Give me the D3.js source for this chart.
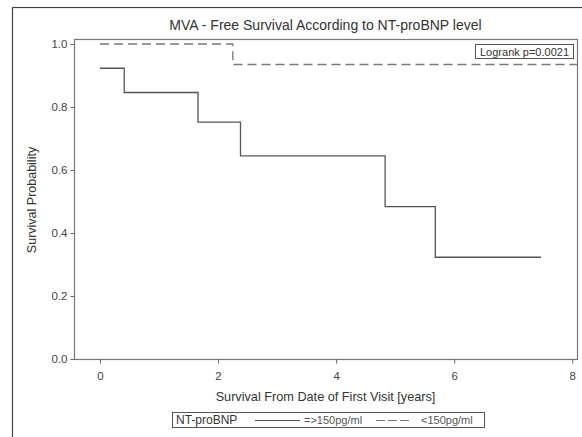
<!DOCTYPE html>
<html>
<head>
<meta charset="utf-8">
<script src="https://d3js.org/d3.v7.min.js"></script>
<style>
    html, body { margin: 0; padding: 0; background: #fff; }
    body { font-family: "Liberation Sans", Arial, sans-serif; }
    text { fill: #333; }
    .axis path, .axis line { stroke: #666; }
</style>
</head>
<body>
<div id="chart"></div>
<script>
    // step curves (time in years, survival probability)
    var highTimes = [0, 0.41, 1.66, 2.38, 4.83, 5.68, 7.47];
    var highSurv = [0.923, 0.846, 0.752, 0.645, 0.484, 0.323, 0.323];
    var lowTimes = [0, 2.25, 8.08];
    var lowSurv = [1.0, 0.935, 0.935];

    var xTicks = [0, 2, 4, 6, 8];
    var yTicks = [0.0, 0.2, 0.4, 0.6, 0.8, 1.0];

    var W = 582, H = 437;
    var margin = {top: 39, right: 5, bottom: 78, left: 74};

    var svg = d3.select("#chart").append("svg")
        .attr("width", W)
        .attr("height", H);

    // outer frame (only top/left visible)
    svg.append("rect")
        .attr("x", 12.5).attr("y", 7.5)
        .attr("width", W + 20).attr("height", H + 20)
        .style("fill", "none").style("stroke", "#444").style("stroke-width", 1.2);

    var x = d3.scaleLinear().domain([-0.44, 8.08]).range([margin.left, W - margin.right]);
    var y = d3.scaleLinear().domain([0, 1]).range([359, 44]);
    var plotTop = margin.top, plotBottom = 359;

    // plot frame
    svg.append("rect")
        .attr("x", margin.left + 0.5).attr("y", plotTop + 0.5)
        .attr("width", W - margin.right - margin.left).attr("height", plotBottom - plotTop)
        .style("fill", "none").style("stroke", "#777").style("stroke-width", 1.2);

    var xAxis = svg.append("g").attr("class", "axis")
        .attr("transform", "translate(0," + (plotBottom + 0.5) + ")")
        .call(d3.axisBottom(x).tickValues(xTicks).tickFormat(d3.format("d")).tickSize(4).tickPadding(8));
    xAxis.select(".domain").remove();
    xAxis.selectAll("text").style("font-size", "11.5px").style("fill", "#444");

    var yAxis = svg.append("g").attr("class", "axis")
        .attr("transform", "translate(" + (margin.left + 0.5) + ",0)")
        .call(d3.axisLeft(y).tickValues(yTicks).tickFormat(d3.format(".1f")).tickSize(4).tickPadding(3));
    yAxis.select(".domain").remove();
    yAxis.selectAll("text").style("font-size", "11.5px").style("fill", "#444");

    // step lines
    function stepPoints(ts, ss) {
        return ts.map(function (t, i) { return [x(t), y(ss[i])]; });
    }
    var line = d3.line().curve(d3.curveStepAfter);

    svg.append("path")
        .attr("d", line(stepPoints(highTimes, highSurv)))
        .style("fill", "none").style("stroke", "#555").style("stroke-width", 1.3);

    svg.append("path")
        .attr("d", line(stepPoints(lowTimes, lowSurv)))
        .style("fill", "none").style("stroke", "#777").style("stroke-width", 1.3)
        .style("stroke-dasharray", "9,5");

    // logrank box
    svg.append("rect")
        .attr("x", 475.5).attr("y", 44.5).attr("width", 98).attr("height", 14)
        .style("fill", "#fff").style("stroke", "#555");
    svg.append("text")
        .attr("x", 524.5).attr("y", 55.5)
        .attr("text-anchor", "middle")
        .style("font-size", "11px")
        .text("Logrank p=0.0021");

    // titles
    svg.append("text")
        .attr("x", (margin.left + W - margin.right) / 2).attr("y", 30)
        .attr("text-anchor", "middle")
        .style("font-size", "14px")
        .text("MVA - Free Survival According to NT-proBNP level");

    svg.append("text")
        .attr("x", (margin.left + W - margin.right) / 2).attr("y", 401)
        .attr("text-anchor", "middle")
        .style("font-size", "12.7px")
        .text("Survival From Date of First Visit [years]");

    svg.append("text")
        .attr("transform", "translate(36,200) rotate(-90)")
        .attr("text-anchor", "middle")
        .style("font-size", "12.5px")
        .text("Survival Probability");

    // legend
    var lg = svg.append("g");
    lg.append("rect")
        .attr("x", 172.5).attr("y", 412.5).attr("width", 312).attr("height", 15)
        .style("fill", "#fff").style("stroke", "#555");
    lg.append("text").attr("x", 176).attr("y", 424).style("font-size", "12px").text("NT-proBNP");
    lg.append("line").attr("x1", 255).attr("x2", 300).attr("y1", 420.5).attr("y2", 420.5)
        .style("stroke", "#555").style("stroke-width", 1.2);
    lg.append("text").attr("x", 304).attr("y", 424).style("font-size", "11px").style("fill", "#555")
        .text("=>150pg/ml");
    lg.append("line").attr("x1", 376).attr("x2", 411).attr("y1", 420.5).attr("y2", 420.5)
        .style("stroke", "#777").style("stroke-width", 1.2).style("stroke-dasharray", "9,3");
    lg.append("text").attr("x", 421).attr("y", 424).style("font-size", "11px").style("fill", "#555").text("<150pg/ml");
</script>
</body>
</html>
